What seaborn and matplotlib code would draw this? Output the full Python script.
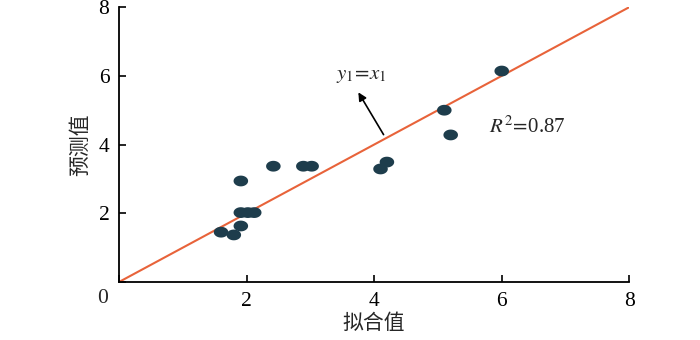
import matplotlib
matplotlib.use("Agg")
import matplotlib.pyplot as plt
import seaborn as sns
import numpy as np
import pandas as pd
from matplotlib.path import Path

fitted = [1.60, 1.80, 1.91, 1.91, 1.91, 2.02, 2.12, 2.42, 2.89, 3.02, 4.10, 4.20, 5.10, 5.20, 6.00]
predicted = [1.45, 1.37, 1.63, 2.94, 2.02, 2.02, 2.02, 3.37, 3.37, 3.37, 3.29, 3.49, 5.00, 4.28, 6.14]
line_x = [0, 8]
line_y = [0, 8]
ticks = [0, 2, 4, 6, 8]
tick_labels = ["", "2", "4", "6", "8"]

sns.set_theme(style="ticks")
plt.rcParams["font.family"] = ["Liberation Serif", "Noto Sans CJK SC"]
plt.rcParams["mathtext.fontset"] = "stix"

fig = plt.figure(figsize=(7, 3.4), dpi=100)
ax = fig.add_axes([0.17, 0.1706, 0.729, 0.8084])

df = pd.DataFrame({"x": fitted, "y": predicted})
t = np.linspace(0, 2 * np.pi, 40)
ell = Path(np.column_stack([1.35 * np.cos(t), np.sin(t)]), closed=True)

sns.lineplot(x=line_x, y=line_y, ax=ax, color="#e8633a", linewidth=1.5, zorder=2)
sns.scatterplot(data=df, x="x", y="y", ax=ax, marker=ell, s=110, color="#1e3d4c",
                edgecolor="none", zorder=3)

ax.set_xlim(0, 8)
ax.set_ylim(0, 8)
ax.set_xticks(ticks)
ax.set_xticklabels(tick_labels)
ax.set_yticks(ticks)
ax.set_yticklabels(tick_labels)
ax.tick_params(direction="in", length=5, width=1.2, labelsize=15.5, colors="black", pad=7)
for sp in ["top", "right"]:
    ax.spines[sp].set_visible(False)
for sp in ["left", "bottom"]:
    ax.spines[sp].set_linewidth(1.3)
    ax.spines[sp].set_color("black")

ax.annotate("0", xy=(0, 0), xycoords="axes fraction", xytext=(-16, -17),
            textcoords="offset pixels", ha="center", va="center", fontsize=15.5)

ax.set_xlabel("拟合值", fontsize=15, labelpad=3)
ax.set_ylabel("预测值", fontsize=15, labelpad=5)

ax.annotate("", xy=(3.73, 5.59), xytext=(4.17, 4.22),
            arrowprops=dict(arrowstyle="-|>", color="black", lw=1.2, mutation_scale=12))
ax.text(3.8, 6.02, r"$y_1\!=\!x_1$", fontsize=15, ha="center", va="center")
ax.text(5.8, 4.5, r"$R^2\!=\!$0.87", fontsize=15, ha="left", va="center")

fig.savefig("out.png", dpi=100)
